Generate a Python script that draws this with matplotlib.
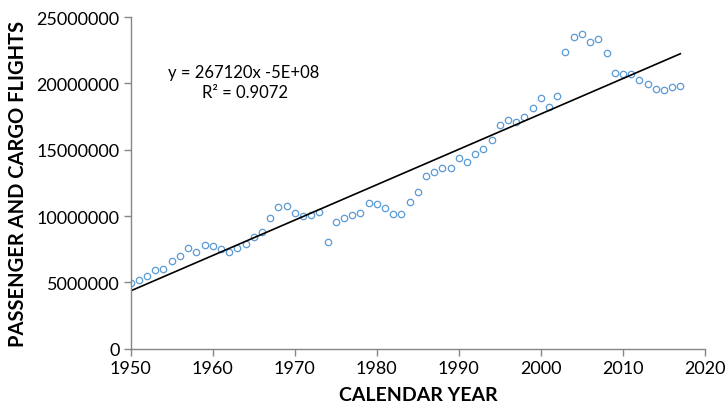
import numpy as np
import matplotlib
matplotlib.use("Agg")
import matplotlib.pyplot as plt

# data
years = list(range(1950, 2018))
flights = [
    4.93, 5.20, 5.48, 5.93, 6.03, 6.58, 7.01, 7.56, 7.29, 7.84,
    7.71, 7.51, 7.31, 7.58, 7.91, 8.39, 8.77, 9.89, 10.72, 10.77,
    10.24, 10.02, 10.07, 10.27, 8.01, 9.57, 9.84, 10.10, 10.20, 11.00,
    10.92, 10.62, 10.12, 10.17, 11.05, 11.85, 13.00, 13.30, 13.60, 13.60,
    14.38, 14.08, 14.65, 15.08, 15.76, 16.86, 17.24, 17.06, 17.47, 18.11,
    18.89, 18.24, 19.02, 22.38, 23.50, 23.75, 23.10, 23.35, 22.28, 20.77,
    20.72, 20.67, 20.25, 19.95, 19.60, 19.47, 19.72, 19.80,
]
flights = [v * 1e6 for v in flights]
equation = "y = 267120x -5E+08"
r_squared = "R\u00b2 = 0.9072"

plt.rcParams['font.family'] = ['Lato', 'DejaVu Sans']

fig = plt.figure(figsize=(7.26, 4.10), dpi=100)
ax = fig.add_axes([0.180, 0.147, 0.791, 0.809])

x = np.array(years)
y = np.array(flights)
ax.plot(x, y, 'o', markerfacecolor='none', markeredgecolor='#5B9BD5',
        markersize=4.6, markeredgewidth=0.9)

# linear trend line
m, b = np.polyfit(x, y, 1)
ax.plot([x[0], x[-1]], [m * x[0] + b, m * x[-1] + b], color='black', linewidth=1.2)

ax.set_xlim(1950, 2020)
ax.set_ylim(0, 25000000)
ax.set_xticks(range(1950, 2021, 10))
ax.set_yticks(range(0, 25000001, 5000000))
ax.set_yticklabels([str(v) for v in range(0, 25000001, 5000000)])

for s in ['top', 'right']:
    ax.spines[s].set_visible(False)
for s in ['left', 'bottom']:
    ax.spines[s].set_color('#868686')
    ax.spines[s].set_linewidth(1.0)
ax.tick_params(direction='out', length=5, color='#868686', labelsize=13,
               labelcolor='black', width=1.0, pad=3)

ax.set_xlabel('CALENDAR YEAR', fontsize=14, fontweight='bold', labelpad=7)
ax.set_ylabel('PASSENGER AND CARGO FLIGHTS', fontsize=14.5, fontweight='bold', labelpad=6)

fig.text(244 / 726, 1 - 73 / 410, equation, ha='center', va='center', fontsize=12)
fig.text(245 / 726, 1 - 93 / 410, r_squared, ha='center', va='center', fontsize=12)

fig.savefig('out.png', dpi=100)
